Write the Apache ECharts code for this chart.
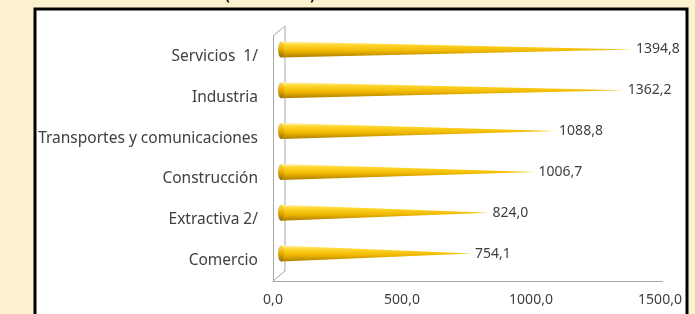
<!DOCTYPE html>
<html>
<head>
<meta charset="utf-8">
<script src="https://cdn.jsdelivr.net/npm/echarts@6/dist/echarts.min.js"></script>
<style>
  html, body { margin: 0; padding: 0; background: #fcf1cf; }
  #chart { width: 695px; height: 314px; }
</style>
</head>
<body>
<div id="chart"></div>
<script>
const categories = ['Servicios  1/', 'Industria', 'Transportes y comunicaciones', 'Construcción', 'Extractiva 2/', 'Comercio'];
const values = [1394.8, 1362.2, 1088.8, 1006.7, 824.0, 754.1];
const xTicks = [0, 500, 1000, 1500];
const titleText = '(En millones)';

const FONT = '"Noto Sans", "DejaVu Sans", sans-serif';
const fmt = (v) => v.toFixed(1).replace('.', ',');

// depth offsets of the fake 3D box (bars sit half way back)
const WALL_DX = 12, WALL_DY = 10;
const BAR_DX = 8, BAR_DY = 7, BAR_H = 8;
const BAR_SCALE = 0.974; // bars sit on a slightly narrower plane

const chart = echarts.init(document.getElementById('chart'));

const coneFill = new echarts.graphic.LinearGradient(0, 0, 0, 1, [
  { offset: 0, color: '#fff3b0' },
  { offset: 0.22, color: '#ffd62e' },
  { offset: 0.6, color: '#f0b800' },
  { offset: 1, color: '#ad7e00' },
]);
const capFill = new echarts.graphic.LinearGradient(0, 0, 0, 1, [
  { offset: 0, color: '#ffd84a' },
  { offset: 0.5, color: '#e6ac00' },
  { offset: 1, color: '#9c6e00' },
]);

function renderCone(params, api) {
  const v = api.value(0);
  const ci = api.value(1);
  const base = api.coord([0, ci]);
  const tip = api.coord([v, ci]);
  const x0 = base[0] + BAR_DX;
  const x1 = base[0] + BAR_DX + 1.5 + (tip[0] - base[0]) * BAR_SCALE;
  const y = base[1] - BAR_DY;
  return {
    type: 'group',
    children: [
      {
        type: 'polygon',
        shape: { points: [[x0, y - BAR_H], [x1, y], [x0, y + BAR_H]] },
        style: { fill: coneFill },
      },
      {
        type: 'ellipse',
        shape: { cx: x0, cy: y, rx: 3, ry: BAR_H },
        style: { fill: capFill },
      },
      {
        type: 'text',
        style: {
          text: fmt(v), x: x1 + 3, y: y,
          verticalAlign: 'middle', align: 'left',
          font: '14px ' + FONT, fill: '#404040',
        },
      },
    ],
  };
}

// back wall + depth edges of the 3D frame, floor edge runs a bit past the last tick
function renderWall(params, api) {
  const cs = params.coordSys;
  const l = cs.x, t = cs.y, b = cs.y + cs.height, r = cs.x + cs.width;
  const st = { stroke: '#a6a6a6', lineWidth: 1, fill: null };
  return {
    type: 'group',
    children: [
      { type: 'line', shape: { x1: l, y1: t, x2: l + WALL_DX, y2: t - WALL_DY }, style: st },
      { type: 'line', shape: { x1: l + WALL_DX, y1: t - WALL_DY, x2: l + WALL_DX, y2: b - WALL_DY }, style: st },
      { type: 'line', shape: { x1: l, y1: b, x2: l + WALL_DX, y2: b - WALL_DY }, style: st },
      { type: 'line', shape: { x1: r, y1: b + 0.5, x2: r + 3, y2: b + 0.5 }, style: st },
    ],
  };
}

chart.setOption({
  backgroundColor: '#fcf1cf',
  animation: false,
  graphic: [
    {
      type: 'rect', z: -10,
      shape: { x: 35, y: 9, width: 652, height: 330 },
      style: { fill: '#ffffff', stroke: '#000000', lineWidth: 3 },
    },
    {
      type: 'text', z: -5,
      style: {
        text: titleText, x: 270, y: 3, align: 'center', verticalAlign: 'bottom',
        font: 'bold 14px ' + FONT, fill: '#000',
      },
    },
  ],
  grid: { left: 273, right: 35, top: 36, bottom: 33, containLabel: false },
  xAxis: {
    type: 'value',
    min: xTicks[0],
    max: xTicks[xTicks.length - 1],
    interval: xTicks[1] - xTicks[0],
    axisLine: { show: true, lineStyle: { color: '#a6a6a6', width: 1 } },
    axisTick: { show: false },
    splitLine: { show: false },
    axisLabel: {
      margin: 12,
      formatter: (v) => fmt(v),
      fontFamily: FONT, fontSize: 14, color: '#404040',
    },
  },
  yAxis: {
    type: 'category',
    data: categories,
    inverse: true,
    axisLine: { show: true, lineStyle: { color: '#a6a6a6', width: 1 } },
    axisTick: { show: false },
    axisLabel: { margin: 15, fontFamily: FONT, fontSize: 15.5, color: '#404040' },
  },
  series: [
    {
      type: 'custom',
      renderItem: renderWall,
      data: [[0, 0]],
      encode: { x: 0, y: 1 },
      silent: true,
      z: 1,
    },
    {
      type: 'custom',
      renderItem: renderCone,
      data: values.map((v, i) => [v, i]),
      encode: { x: 0, y: 1 },
      z: 2,
    },
  ],
});
</script>
</body>
</html>
